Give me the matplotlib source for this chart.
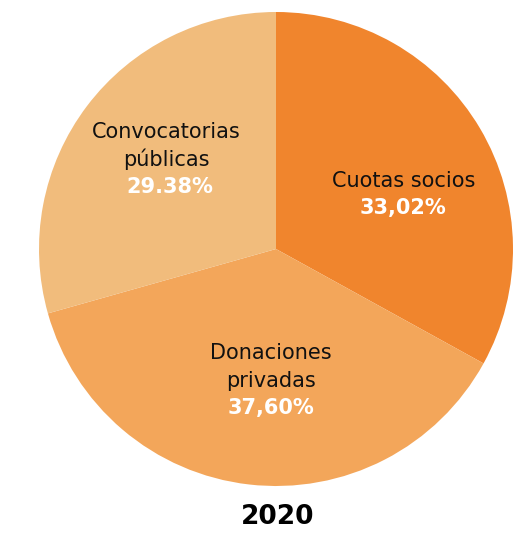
import matplotlib
matplotlib.use("Agg")
import matplotlib.pyplot as plt

categories = ["Cuotas socios", "Donaciones\nprivadas", "Convocatorias\npúblicas"]
values = [33.02, 37.60, 29.38]
pct_labels = ["33,02%", "37,60%", "29.38%"]
colors = ["#F0852D", "#F3A65A", "#F1BC7C"]
year = "2020"

W, H = 528, 533
fig = plt.figure(figsize=(W / 100, H / 100), dpi=100)
cx, cy, r = 276, 249, 237
ax = fig.add_axes([(cx - r) / W, (H - cy - r) / H, 2 * r / W, 2 * r / H])
ax.pie(values, colors=colors, startangle=90, counterclock=False, radius=1,
       wedgeprops=dict(linewidth=0))
ax.set_xlim(-1, 1)
ax.set_ylim(-1, 1)
ax.set_aspect("equal")
ax.axis("off")

fs = 15
step = 27.5 / r  # line step in data units
# (x of name, y of first line, x of pct)
label_pos = [
    (0.54, 0.287, 0.536),
    (-0.021, -0.439, -0.021),
    (-0.464, 0.494, -0.447),
]
for cat, pct, (nx, ny, px) in zip(categories, pct_labels, label_pos):
    lines = cat.split("\n")
    for i, ln in enumerate(lines):
        ax.text(nx, ny - i * step, ln, ha="center", va="center", fontsize=fs,
                color="#111111")
    ax.text(px, ny - len(lines) * step, pct, ha="center", va="center",
            fontsize=fs, color="white", fontweight="bold")

ax.text(0.008, -1.131, year, ha="center", va="center", fontsize=19,
        fontweight="bold", color="black", clip_on=False)

fig.savefig("out.png", dpi=100)
